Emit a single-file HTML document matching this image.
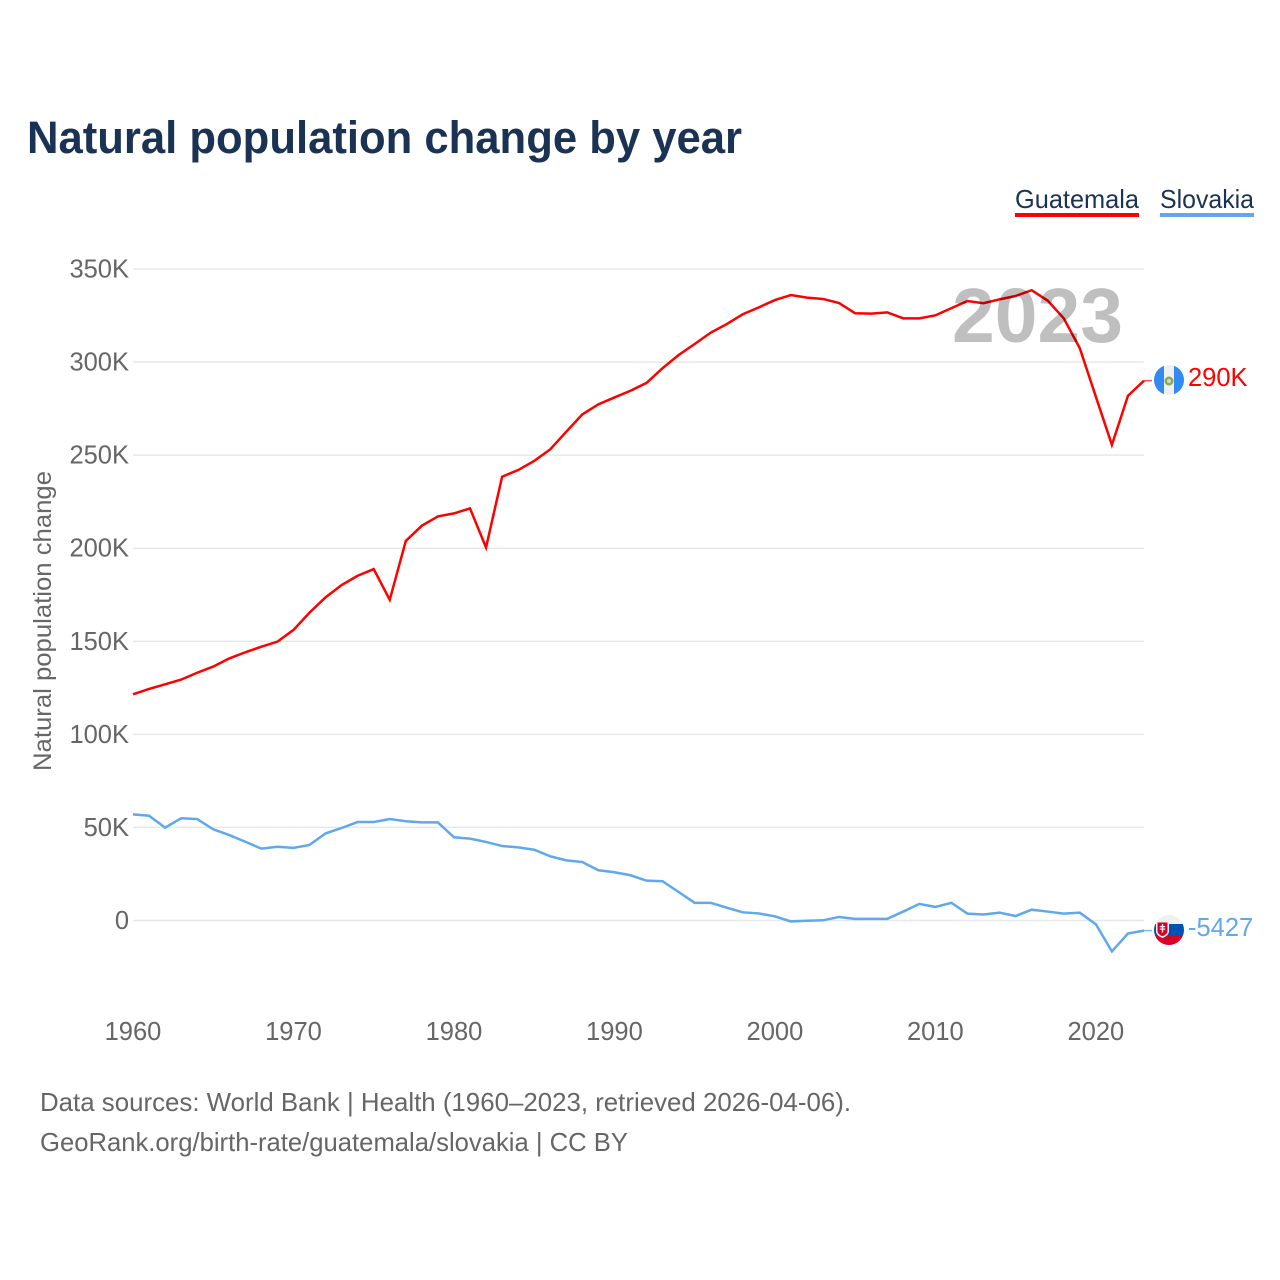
<!DOCTYPE html>
<html lang="en">
<head>
<meta charset="utf-8">
<title>Natural population change by year</title>
<style>
html,body{margin:0;padding:0;background:#fff;width:1280px;height:1280px;overflow:hidden}
svg{display:block;font-family:"Liberation Sans",sans-serif}
</style>
</head>
<body>
<svg id="chart" width="1280" height="1280" viewBox="0 0 1280 1280" xmlns="http://www.w3.org/2000/svg">
  <defs>
    <clipPath id="flag-clip-gt"><circle cx="1169" cy="380" r="15"/></clipPath>
    <clipPath id="flag-clip-sk"><circle cx="1169" cy="930" r="15"/></clipPath>
  </defs>
  <rect width="1280" height="1280" fill="#fff"/>
  <text x="27" y="153" font-size="45" font-weight="700" fill="#1a3354" textLength="715" lengthAdjust="spacingAndGlyphs">Natural population change by year</text>

  <g>
    <text x="1015" y="208" font-size="26" fill="#1a3354" textLength="124" lengthAdjust="spacingAndGlyphs">Guatemala</text>
    <rect x="1015" y="213" width="124" height="4" fill="#ff0000"/>
  </g>
  <g>
    <text x="1160" y="208" font-size="26" fill="#1a3354" textLength="94" lengthAdjust="spacingAndGlyphs">Slovakia</text>
    <rect x="1160" y="213" width="94" height="4" fill="#5fa8ee"/>
  </g>

  <g id="grid"></g>
  <g id="y-ticks"></g>
  <g id="x-ticks"></g>
  <text transform="translate(51,621) rotate(-90)" text-anchor="middle" font-size="25" fill="#666" textLength="300" lengthAdjust="spacingAndGlyphs">Natural population change</text>

  <g id="series"></g>
  <text x="1123" y="342" text-anchor="end" font-size="77" font-weight="700" fill="rgba(0,0,0,0.25)" textLength="171" lengthAdjust="spacingAndGlyphs">2023</text>

  <g clip-path="url(#flag-clip-gt)">
    <rect x="1154" y="365" width="30" height="30" fill="#f0f0f0"/>
    <rect x="1154" y="365" width="10" height="30" fill="#338af3"/>
    <rect x="1174" y="365" width="10" height="30" fill="#338af3"/>
    <circle cx="1169" cy="381" r="4.500" fill="#8aa85a"/>
    <circle cx="1169" cy="381" r="2" fill="#d8d8c8"/>
  </g>
  <g clip-path="url(#flag-clip-sk)">
    <rect x="1154" y="915" width="30" height="30" fill="#f0f0f0"/>
    <rect x="1154" y="924" width="30" height="12" fill="#0052b4"/>
    <rect x="1154" y="936" width="30" height="9" fill="#d80027"/>
    <path d="M1156 921h13v10c0 3.500-3.500 6-6.500 7c-3-1-6.500-3.500-6.500-7z" fill="#f0f0f0"/>
    <path d="M1157.500 922.500h10v8.500c0 2.500-2.500 4.200-5 5.200c-2.500-1-5-2.700-5-5.200z" fill="#d80027"/>
    <path d="M1161.800 924h1.400v2h2v1.200h-2v1.300h2v1.200h-2v2.800h-1.400v-2.800h-2v-1.200h2v-1.300h-2v-1.200h2z" fill="#f0f0f0"/>
  </g>
  <text id="value-guatemala" x="1188" y="386" font-size="25.500" fill="#ff0000">290K</text>
  <text id="value-slovakia" x="1188" y="936" font-size="25.500" fill="#5fa8ee">-5427</text>

  <text x="40" y="1111" font-size="26" fill="#666" textLength="811" lengthAdjust="spacingAndGlyphs">Data sources: World Bank | Health (1960–2023, retrieved 2026-04-06).</text>
  <text x="40" y="1151" font-size="26" fill="#666" textLength="588" lengthAdjust="spacingAndGlyphs">GeoRank.org/birth-rate/guatemala/slovakia | CC BY</text>
</svg>
<script>
const startYear = 1960;
const endYear = 2023;
const yTickValues = [0, 50000, 100000, 150000, 200000, 250000, 300000, 350000];
const yTickLabels = ['0', '50K', '100K', '150K', '200K', '250K', '300K', '350K'];
const xTickYears = [1960, 1970, 1980, 1990, 2000, 2010, 2020];
const guatemalaValues = [
  121500, 124400, 126900, 129400, 133100, 136400, 140800, 144100, 147100, 149800,
  156100, 165400, 173600, 180200, 185200, 188800, 172300, 203900, 212100, 217100,
  218700, 221400, 200400, 238400, 242000, 246900, 253100, 262600, 271900, 277300,
  281000, 284600, 288800, 296700, 303800, 309700, 315800, 320400, 325700, 329400,
  333300, 336000, 334600, 333900, 331700, 326200, 326000, 326700, 323500, 323500,
  325100, 329000, 332800, 331600, 333700, 335500, 338600, 333000, 323500, 307400,
  281400, 255500, 281900, 290000
];
const slovakiaValues = [
  57000, 56300, 49900, 54900, 54500, 49000, 45900, 42300, 38600, 39600,
  39000, 40600, 46800, 49700, 52900, 52900, 54500, 53300, 52700, 52700,
  44700, 44000, 42200, 40000, 39300, 38000, 34500, 32300, 31400, 27000,
  25900, 24300, 21400, 21100, 15300, 9500, 9500, 6900, 4400, 3800,
  2200, -500, -100, 100, 1900, 900, 900, 900, 4800, 8900,
  7300, 9500, 3700, 3200, 4200, 2400, 5800, 4800, 3700, 4200,
  -2000, -16600, -7000, -5427
];

const NS = 'http://www.w3.org/2000/svg';
function xScale(year) {
  return 133 + (year - startYear) * (1144 - 133) / (endYear - startYear);
}
function yScale(value) {
  return 920.5 - value * (920.5 - 269) / 350000;
}
function make(tag, parentId) {
  const el = document.createElementNS(NS, tag);
  document.getElementById(parentId).appendChild(el);
  return el;
}

yTickValues.forEach(function (value, i) {
  const line = make('line', 'grid');
  
  
  line.setAttribute('x1', xScale(startYear));
  line.setAttribute('x2', xScale(endYear));
  line.setAttribute('y1', yScale(value));
  line.setAttribute('y2', yScale(value));
  line.setAttribute('stroke', '#e8e8e8');
  line.setAttribute('stroke-width', '1.500');

  const label = make('text', 'y-ticks');
  
  
  label.setAttribute('x', 129);
  label.setAttribute('y', yScale(value) + 8.5);
  label.setAttribute('text-anchor', 'end');
  label.setAttribute('font-size', '25.500');
  label.setAttribute('fill', '#666');
  label.textContent = yTickLabels[i];
});

xTickYears.forEach(function (year) {
  const label = make('text', 'x-ticks');
  
  
  label.setAttribute('x', xScale(year));
  label.setAttribute('y', 1040);
  label.setAttribute('text-anchor', 'middle');
  label.setAttribute('font-size', '25.500');
  label.setAttribute('fill', '#666');
  label.textContent = String(year);
});

function pointsFor(values) {
  return values.map(function (value, i) {
    return xScale(startYear + i).toFixed(2) + ',' + yScale(value).toFixed(2);
  }).join(' ');
}

const guatemalaLine = make('polyline', 'series');


guatemalaLine.setAttribute('points', pointsFor(guatemalaValues));
guatemalaLine.setAttribute('fill', 'none');
guatemalaLine.setAttribute('stroke', '#ff0000');
guatemalaLine.setAttribute('stroke-width', '2.500');
guatemalaLine.setAttribute('stroke-linejoin', 'miter');

const slovakiaLine = make('polyline', 'series');


slovakiaLine.setAttribute('points', pointsFor(slovakiaValues));
slovakiaLine.setAttribute('fill', 'none');
slovakiaLine.setAttribute('stroke', '#5fa8ee');
slovakiaLine.setAttribute('stroke-width', '2.500');
slovakiaLine.setAttribute('stroke-linejoin', 'miter');

const guatemalaLeader = make('line', 'series');


guatemalaLeader.setAttribute('x1', xScale(endYear));
guatemalaLeader.setAttribute('x2', 1152);
guatemalaLeader.setAttribute('y1', yScale(guatemalaValues[guatemalaValues.length - 1]));
guatemalaLeader.setAttribute('y2', yScale(guatemalaValues[guatemalaValues.length - 1]));
guatemalaLeader.setAttribute('stroke', '#ff0000');
guatemalaLeader.setAttribute('stroke-opacity', '0.7');
guatemalaLeader.setAttribute('stroke-width', '1.500');

const slovakiaLeader = make('line', 'series');


slovakiaLeader.setAttribute('x1', xScale(endYear));
slovakiaLeader.setAttribute('x2', 1152);
slovakiaLeader.setAttribute('y1', yScale(slovakiaValues[slovakiaValues.length - 1]));
slovakiaLeader.setAttribute('y2', yScale(slovakiaValues[slovakiaValues.length - 1]));
slovakiaLeader.setAttribute('stroke', '#5fa8ee');
slovakiaLeader.setAttribute('stroke-opacity', '0.8');
slovakiaLeader.setAttribute('stroke-width', '1.500');
</script>
</body>
</html>
